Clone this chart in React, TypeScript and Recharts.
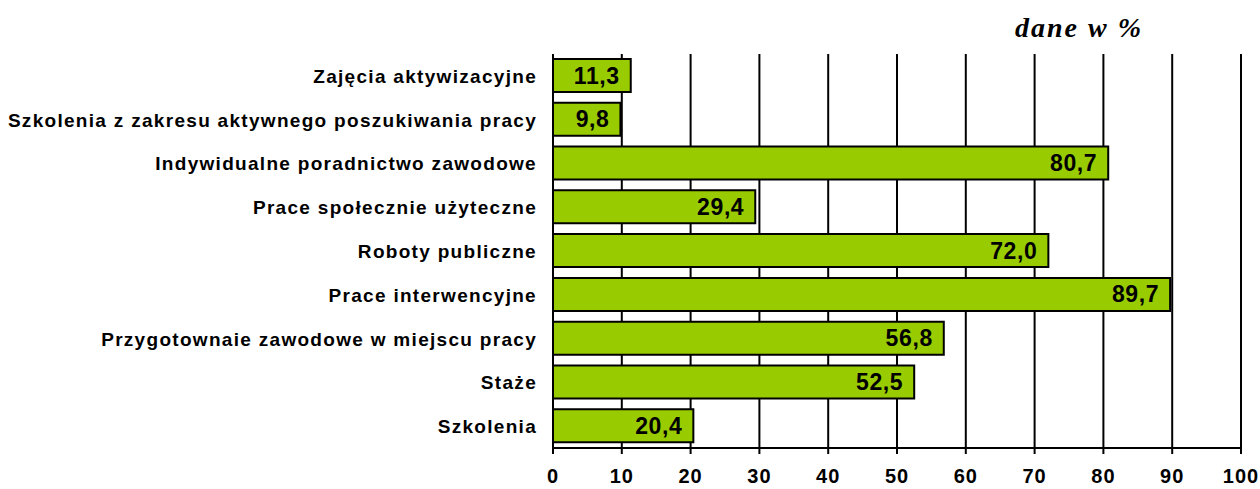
import { Bar, BarChart, CartesianGrid, LabelList, XAxis, YAxis } from 'recharts';

const categories = [
  'Zajęcia aktywizacyjne',
  'Szkolenia z zakresu aktywnego poszukiwania pracy',
  'Indywidualne poradnictwo zawodowe',
  'Prace społecznie użyteczne',
  'Roboty publiczne',
  'Prace interwencyjne',
  'Przygotownaie zawodowe w miejscu pracy',
  'Staże',
  'Szkolenia',
];
const values = [11.3, 9.8, 80.7, 29.4, 72.0, 89.7, 56.8, 52.5, 20.4];
const xTicks = [0, 10, 20, 30, 40, 50, 60, 70, 80, 90, 100];
const boundaryTicks = [0, 1, 2, 3, 4, 5, 6, 7, 8, 9];

const data = categories.map((name, i) => ({ name, value: values[i] }));

const FONT = '"Liberation Sans", Arial, sans-serif';

function CategoryTick({ x, y, payload }: any) {
  return (
    <text
      x={x - 8}
      y={y}
      dy={7}
      textAnchor="end"
      fill="#000"
      fontFamily={FONT}
      fontWeight="bold"
      fontSize={19}
      letterSpacing={1.3}
    >
      {payload.value}
    </text>
  );
}

function ValueTick({ x, y, payload }: any) {
  return (
    <text
      x={x}
      y={y}
      dy={27}
      textAnchor="middle"
      fill="#000"
      fontFamily={FONT}
      fontWeight="bold"
      fontSize={20}
      letterSpacing={1}
    >
      {payload.value}
    </text>
  );
}

function BarValue({ x, y, width, height, value }: any) {
  return (
    <text
      x={x + width - 11}
      y={y + height / 2}
      dy={8}
      textAnchor="end"
      fill="#000"
      fontFamily={FONT}
      fontWeight="bold"
      fontSize={23}
      letterSpacing={0.6}
    >
      {Number(value).toFixed(1).replace('.', ',')}
    </text>
  );
}

export default function App() {
  return (
    <div style={{ position: 'absolute', left: 0, top: 0, width: 1260, height: 489, background: '#fff' }}>
      <div
        style={{
          position: 'absolute',
          left: 1015,
          top: 12,
          fontFamily: '"Liberation Serif", "Times New Roman", serif',
          fontWeight: 'bold',
          fontStyle: 'italic',
          fontSize: 28,
          letterSpacing: 2,
          lineHeight: '32px',
        }}
      >
        dane w %
      </div>
      <BarChart
        width={1260}
        height={489}
        data={data}
        layout="vertical"
        margin={{ top: 54, right: 19, bottom: 0, left: 0 }}
      >
        <CartesianGrid stroke="#000" strokeWidth={2} horizontal={false} yAxisId="grid" />
        <XAxis
          type="number"
          domain={[0, 100]}
          ticks={xTicks}
          interval={0}
          height={41}
          tick={<ValueTick />}
          tickLine={{ stroke: '#000', strokeWidth: 2 }}
          tickSize={6}
          axisLine={{ stroke: '#000', strokeWidth: 2 }}
        />
        <YAxis
          yAxisId="grid"
          type="number"
          domain={[0, 9]}
          ticks={boundaryTicks}
          interval={0}
          width={0}
          tick={false}
          tickLine={{ stroke: '#000', strokeWidth: 2 }}
          tickSize={6}
          axisLine={{ stroke: '#000', strokeWidth: 2 }}
        />
        <YAxis
          yAxisId="cat"
          type="category"
          dataKey="name"
          width={553}
          interval={0}
          tick={<CategoryTick />}
          tickLine={false}
          axisLine={false}
        />
        <Bar
          yAxisId="cat"
          dataKey="value"
          fill="#99CC00"
          stroke="#000"
          strokeWidth={2}
          barSize={33}
          isAnimationActive={false}
        >
          <LabelList dataKey="value" content={<BarValue />} />
        </Bar>
      </BarChart>
    </div>
  );
}
